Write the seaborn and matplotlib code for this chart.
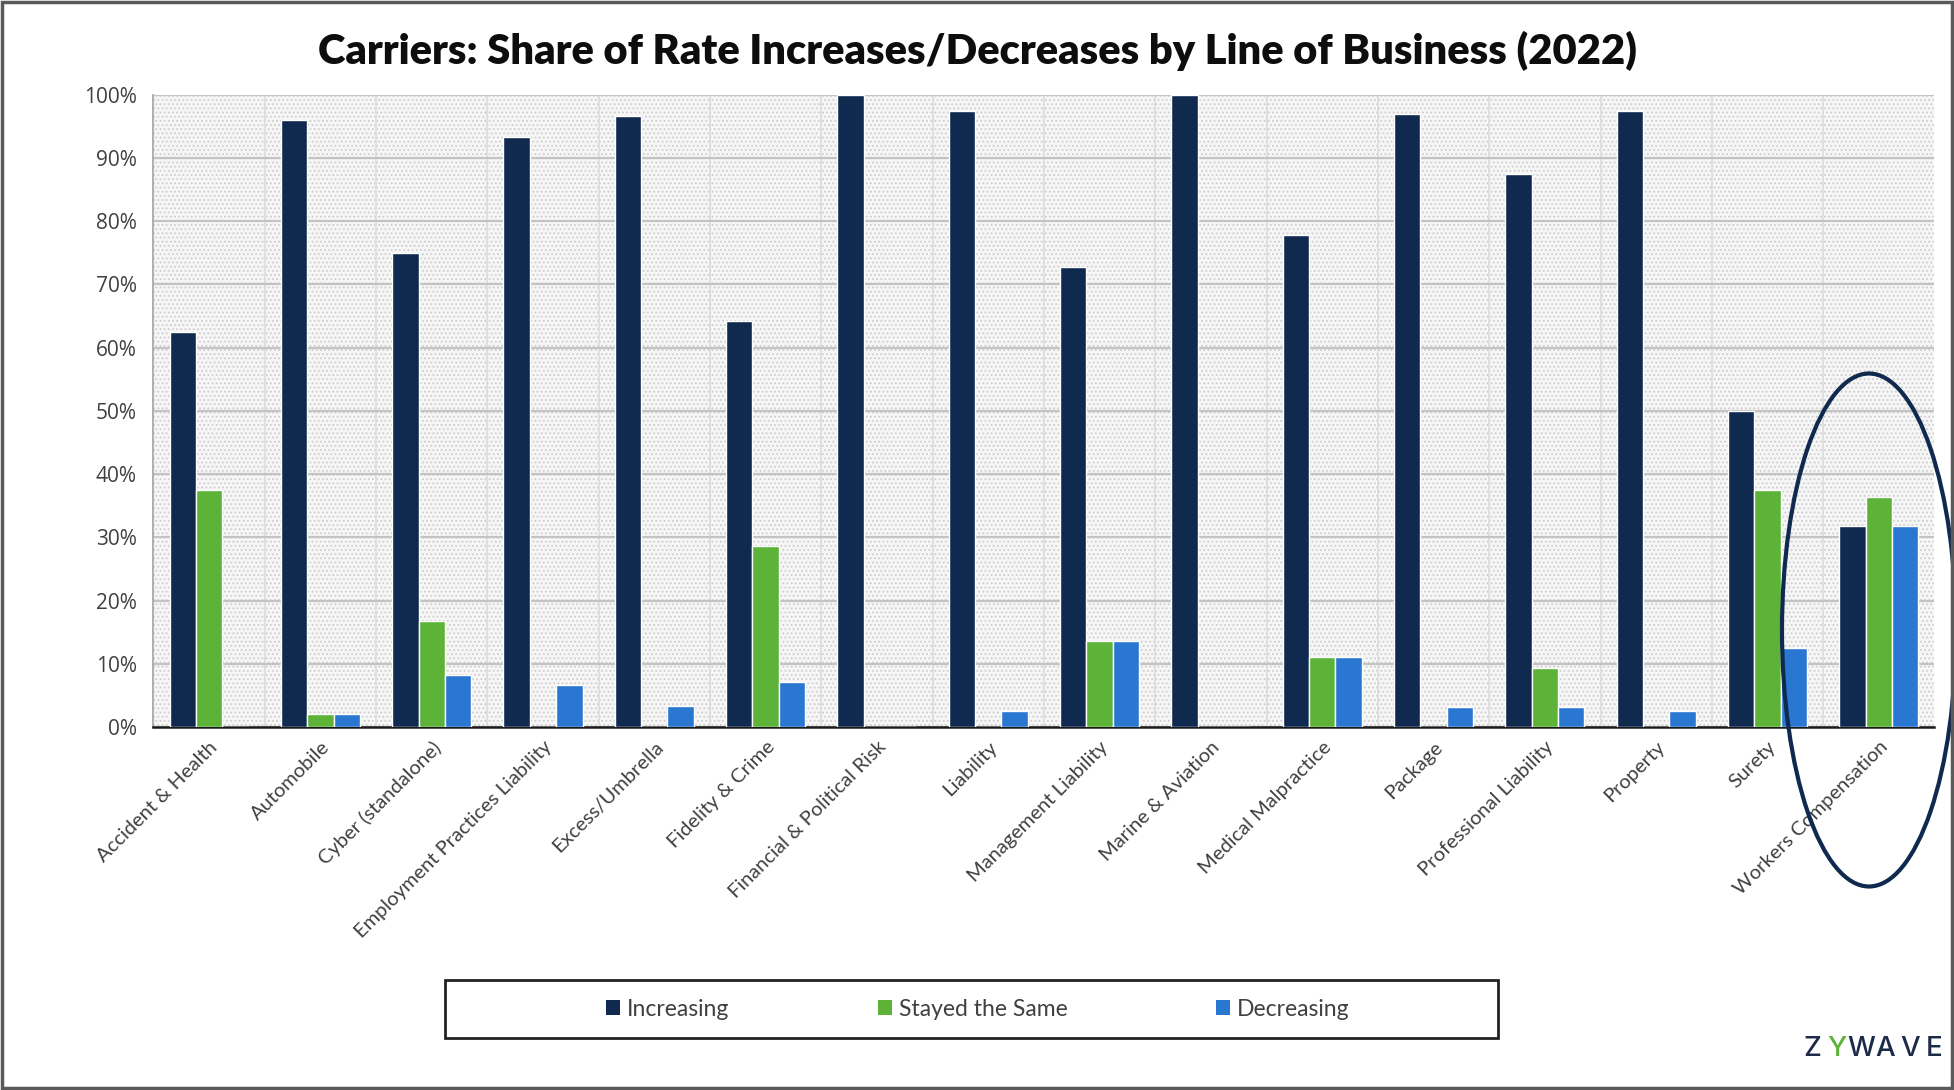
import numpy as np
import pandas as pd
import matplotlib
matplotlib.use("Agg")
import matplotlib.pyplot as plt
import seaborn as sns
from matplotlib.patches import Ellipse, Rectangle
from matplotlib.ticker import PercentFormatter, MultipleLocator, FixedLocator

# ---- data -----------------------------------------------------------------
lines_of_business = [
    "Accident & Health", "Automobile", "Cyber (standalone)",
    "Employment Practices Liability", "Excess/Umbrella", "Fidelity & Crime",
    "Financial & Political Risk", "Liability", "Management Liability",
    "Marine & Aviation", "Medical Malpractice", "Package",
    "Professional Liability", "Property", "Surety", "Workers Compensation",
]
increasing = [62.5, 96.0, 75.0, 93.3, 96.7, 64.3, 100.0, 97.4, 72.7,
              100.0, 77.8, 96.9, 87.5, 97.4, 50.0, 31.8]
stayed_same = [37.5, 2.0, 16.7, 0.0, 0.0, 28.6, 0.0, 0.0, 13.6,
               0.0, 11.1, 0.0, 9.4, 0.0, 37.5, 36.4]
decreasing = [0.0, 2.0, 8.3, 6.7, 3.3, 7.1, 0.0, 2.6, 13.6,
              0.0, 11.1, 3.1, 3.1, 2.6, 12.5, 31.8]

series_names = ["Increasing", "Stayed the Same", "Decreasing"]
series_colors = ["#10294f", "#5cb338", "#2a77d2"]

title_text = "Carriers: Share of Rate Increases/Decreases by Line of Business (2022)"

df = pd.DataFrame({
    "line": lines_of_business,
    "Increasing": increasing,
    "Stayed the Same": stayed_same,
    "Decreasing": decreasing,
}).melt(id_vars="line", var_name="trend", value_name="share")

# ---- style ----------------------------------------------------------------
sns.set_theme(style="white")
plt.rcParams["font.family"] = ["Lato", "DejaVu Sans"]
plt.rcParams["hatch.linewidth"] = 0.8
plt.rcParams["hatch.color"] = "#cdcdcd"

text_grey = "#404040"
navy = "#10294f"

fig = plt.figure(figsize=(19.54, 10.90), dpi=100)
ax = fig.add_axes([0.0785, 0.333, 0.9115, 0.580])

# dotted plot-area fill
ax.set_facecolor("#f6f6f6")
ax.add_patch(Rectangle((0, 0), 1, 1, transform=ax.transAxes,
                       facecolor="none", edgecolor="#cdcdcd", hatch="....",
                       linewidth=0, zorder=0))

sns.barplot(data=df, x="line", y="share", hue="trend",
            hue_order=series_names, palette=series_colors,
            width=0.71, saturation=1, errorbar=None, legend=False,
            ax=ax, zorder=3)

# ---- axes -----------------------------------------------------------------
ax.set_xlim(-0.5, len(lines_of_business) - 0.5)
ax.set_ylim(0, 100)
ax.yaxis.set_major_locator(MultipleLocator(10))
ax.yaxis.set_major_formatter(PercentFormatter(100, decimals=0))
ax.xaxis.set_minor_locator(FixedLocator(np.arange(0.5, len(lines_of_business) - 0.5, 1)))

ax.set_axisbelow(True)
ax.grid(axis="y", which="major", color="#c3c3c3", linewidth=1.6)
ax.grid(axis="x", which="minor", color="#dedede", linewidth=1.3)
ax.grid(axis="x", which="major", visible=False)

for side in ("top", "right"):
    ax.spines[side].set_visible(False)
ax.spines["left"].set_color("#a8a8a8")
ax.spines["left"].set_linewidth(1.3)
ax.spines["bottom"].set_color("#1a1a1a")
ax.spines["bottom"].set_linewidth(1.8)

ax.tick_params(axis="y", which="major", direction="out", length=6, width=1.3,
               color="#a8a8a8", pad=6, labelsize=15, labelcolor=text_grey)
ax.tick_params(axis="x", which="both", length=0, pad=8,
               labelsize=14.5, labelcolor=text_grey)
for lab in ax.get_yticklabels():
    lab.set_fontfamily(["Open Sans", "DejaVu Sans"])
ax.set_xticks(range(len(lines_of_business)))
ax.set_xticklabels(lines_of_business, rotation=45, ha="right",
                   rotation_mode="anchor")
ax.set_xlabel("")
ax.set_ylabel("")

# ---- title ----------------------------------------------------------------
fig.text(0.5, 0.953, title_text, ha="center", va="center",
         fontsize=30, fontweight="heavy", color="#0d0d0d")

# ---- legend ---------------------------------------------------------------
fig.patches.append(Rectangle((445 / 1954, 1 - 1038 / 1090), 1053 / 1954, 58 / 1090,
                             transform=fig.transFigure, facecolor="white",
                             edgecolor="#222222", linewidth=2.0, zorder=1))
handles = [Rectangle((0, 0), 1, 1, facecolor=c, edgecolor="none") for c in series_colors]
fig.legend(handles, series_names, loc="center", ncol=3,
           bbox_to_anchor=(0.5005, 1 - 1009 / 1090), frameon=False,
           fontsize=16.5, handlelength=0.6, handleheight=0.6,
           handletextpad=0.3, columnspacing=6.5, labelcolor=text_grey)

# ---- highlight around the last category ---------------------------------------
fig.patches.append(Ellipse((1869 / 1954, 1 - 630 / 1090), 174 / 1954, 513 / 1090,
                           transform=fig.transFigure, facecolor="none",
                           edgecolor=navy, linewidth=3.0, zorder=10))

# ---- wordmark ---------------------------------------------------------------
logo_letters = ["Z", "Y", "W", "A", "V", "E"]
logo_colors = ["#1c2b4a", "#5cb338", "#1c2b4a", "#1c2b4a", "#1c2b4a", "#1c2b4a"]
for i, (ch, col) in enumerate(zip(logo_letters, logo_colors)):
    fig.text((1812 + i * 24.5) / 1954, 1 - 1049 / 1090, ch, ha="center",
             va="center", fontsize=20, color=col, fontweight="medium",
             fontfamily=["Inter", "DejaVu Sans"])

# ---- outer frame ------------------------------------------------------------
fig.patches.append(Rectangle((0.0012, 0.0018), 0.9976, 0.9964,
                             transform=fig.transFigure, facecolor="none",
                             edgecolor="#5a5a5a", linewidth=2.5, zorder=20))

fig.savefig("out.png", dpi=100, facecolor="white")
